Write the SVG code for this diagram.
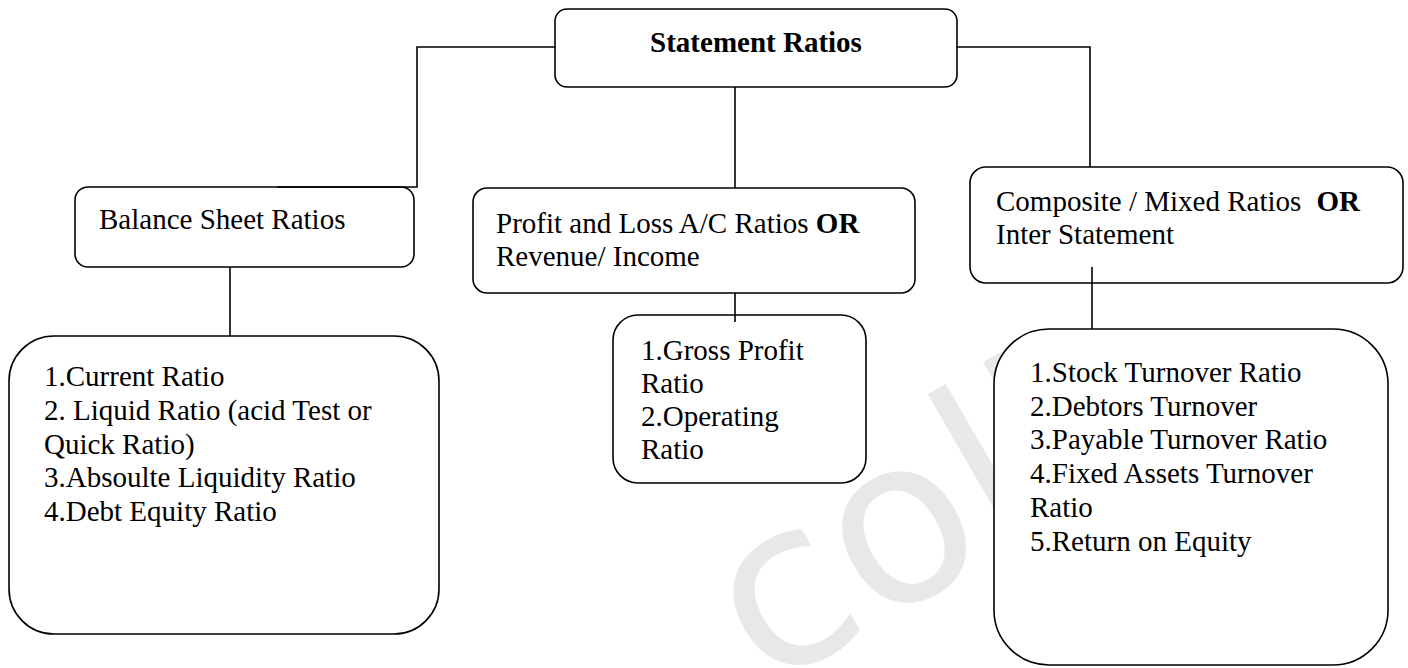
<svg xmlns="http://www.w3.org/2000/svg" width="1408" height="668" viewBox="0 0 1408 668">
<style>
.box{fill:#fff;stroke:#000;stroke-width:1.6}
.t{font-family:"Liberation Serif","Times New Roman",serif;font-size:29px;fill:#000}
.b{font-weight:bold}
.c{fill:none;stroke:#000;stroke-width:1.6}
.wm{font-family:"DejaVu Sans",sans-serif;font-weight:normal;fill:#e8e8e8}
</style>
<rect width="1408" height="668" fill="#fff"/>
<text class="wm" font-size="230" transform="translate(765,690) rotate(-30)">colle</text>
<g id="n-top">
<rect class="box" x="555" y="9" width="402" height="78" rx="12"/>
<text class="t b" x="756" y="52" text-anchor="middle">Statement Ratios</text>
</g>
<g id="n-balance">
<rect class="box" x="75" y="187" width="339" height="80" rx="13"/>
<text class="t" x="99" y="229">Balance Sheet Ratios</text>
</g>
<g id="n-pl">
<rect class="box" x="473" y="188" width="442" height="105" rx="14"/>
<text class="t" x="496" y="233">Profit and Loss A/C Ratios <tspan class="b">OR</tspan></text>
<text class="t" x="496" y="266">Revenue/ Income</text>
</g>
<g id="n-comp">
<rect class="box" x="970" y="167" width="433" height="116" rx="16"/>
<text class="t" x="996" y="211">Composite / Mixed Ratios <tspan class="b" dx="8">OR</tspan></text>
<text class="t" x="996" y="244">Inter Statement</text>
</g>
<g id="n-bs-list">
<rect class="box" x="9" y="336" width="430" height="298" rx="45"/>
<text class="t" x="44" y="386">1.Current Ratio</text>
<text class="t" x="44" y="420">2. Liquid Ratio (acid Test or</text>
<text class="t" x="44" y="454">Quick Ratio)</text>
<text class="t" x="44" y="487">3.Absoulte Liquidity Ratio</text>
<text class="t" x="44" y="521">4.Debt Equity Ratio</text>
</g>
<g id="n-pl-list">
<rect class="box" x="613" y="315" width="253" height="168" rx="25"/>
<text class="t" x="641" y="360">1.Gross Profit</text>
<text class="t" x="641" y="393">Ratio</text>
<text class="t" x="641" y="426">2.Operating</text>
<text class="t" x="641" y="459">Ratio</text>
</g>
<g id="n-comp-list">
<rect class="box" x="994" y="329" width="394" height="336" rx="55"/>
<text class="t" x="1030" y="382">1.Stock Turnover Ratio</text>
<text class="t" x="1030" y="416">2.Debtors Turnover</text>
<text class="t" x="1030" y="449">3.Payable Turnover Ratio</text>
<text class="t" x="1030" y="483">4.Fixed Assets Turnover</text>
<text class="t" x="1030" y="517">Ratio</text>
<text class="t" x="1030" y="551">5.Return on Equity</text>
</g>
<g id="connectors">
<path class="c" d="M555,47 H417 V187 H277"/>
<path class="c" d="M735,87 V188"/>
<path class="c" d="M957,47 H1090 V167"/>
<path class="c" d="M230,267 V336"/>
<path class="c" d="M735,293 V322"/>
<path class="c" d="M1092,267 V329"/>
</g>
</svg>
